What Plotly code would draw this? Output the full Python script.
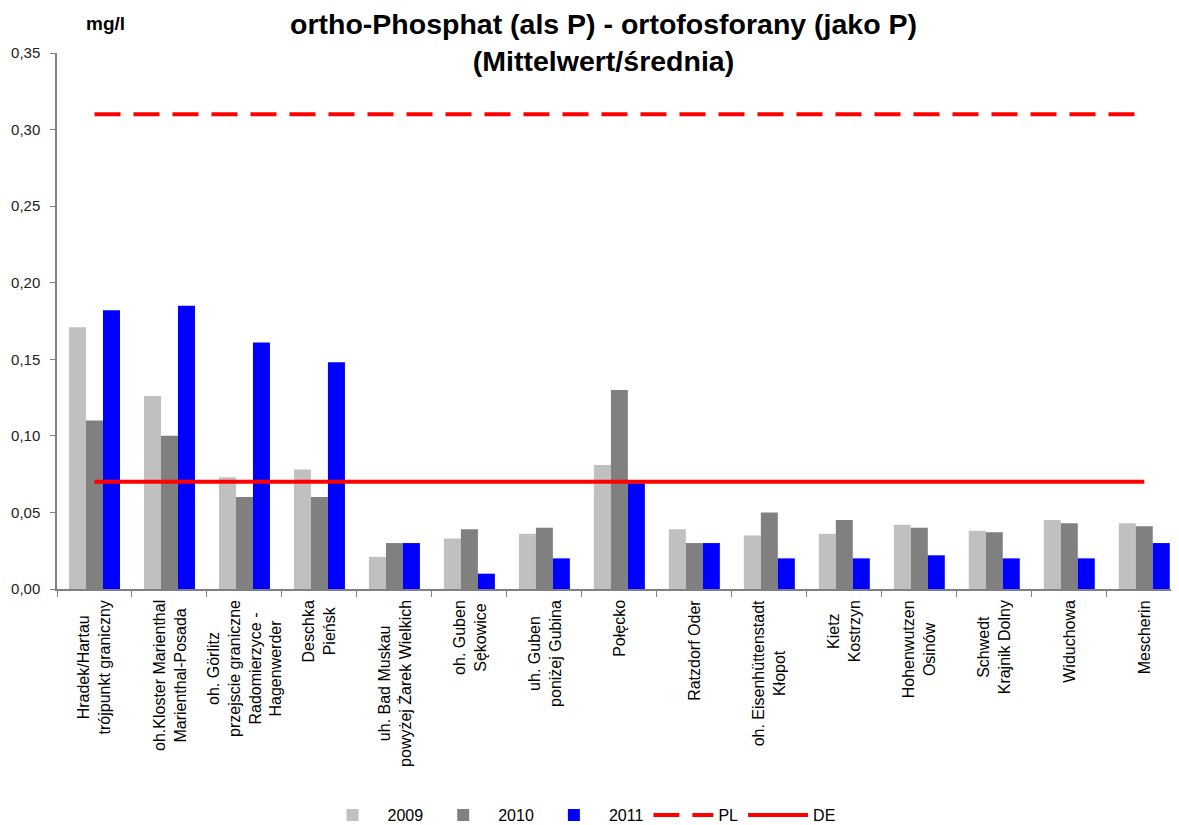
import plotly.graph_objects as go

categories = [
    "Hradek/Hartau<br>trójpunkt graniczny",
    "oh.Kloster Marienthal<br>Marienthal-Posada",
    "oh. Görlitz<br>przejscie graniczne<br>Radomierzyce -<br>Hagenwerder",
    "Deschka<br>Pieńsk",
    "uh. Bad Muskau<br>powyżej Żarek Wielkich",
    "oh. Guben<br>Sękowice",
    "uh. Guben<br>poniżej Gubina",
    "Połęcko",
    "Ratzdorf Oder",
    "oh. Eisenhüttenstadt<br>Kłopot",
    "Kietz<br>Kostrzyn",
    "Hohenwutzen<br>Osinów",
    "Schwedt<br>Krajnik Dolny",
    "Widuchowa",
    "Mescherin",
]

v2009 = [0.171, 0.126, 0.073, 0.078, 0.021, 0.033, 0.036, 0.081, 0.039, 0.035, 0.036, 0.042, 0.038, 0.045, 0.043]
v2010 = [0.110, 0.100, 0.060, 0.060, 0.030, 0.039, 0.040, 0.130, 0.030, 0.050, 0.045, 0.040, 0.037, 0.043, 0.041]
v2011 = [0.182, 0.185, 0.161, 0.148, 0.030, 0.010, 0.020, 0.069, 0.030, 0.020, 0.020, 0.022, 0.020, 0.020, 0.030]

pl_limit = 0.31
de_limit = 0.07

y_ticks = [0.00, 0.05, 0.10, 0.15, 0.20, 0.25, 0.30, 0.35]

title_lines = ["ortho-Phosphat (als P) - ortofosforany (jako P)", "(Mittelwert/średnia)"]

FONT = "Arial, Liberation Sans, sans-serif"
OFF = 8  # page body margin
W, H = 1179 - OFF, 825 - OFF
L, T = 57 - OFF, 53 - OFF
PW, PH = 1121, 536
R = W - L - PW
B = H - T - PH
BOTTOM = T + PH  # plot bottom in figure px


def py(page_y):
    """page pixel y -> paper coordinate"""
    return (BOTTOM - (page_y - OFF)) / PH


def px(page_x):
    return (page_x - OFF - L) / PW


fig = go.Figure()
fig.add_trace(go.Bar(name="2009", x=categories, y=v2009, marker=dict(color="#C0C0C0", line=dict(width=0))))
fig.add_trace(go.Bar(name="2010", x=categories, y=v2010, marker=dict(color="#808080", line=dict(width=0))))
fig.add_trace(go.Bar(name="2011", x=categories, y=v2011, marker=dict(color="#0000FF", line=dict(width=0))))
fig.add_trace(go.Scatter(name="PL", x=categories, y=[pl_limit] * len(categories), mode="lines",
                         line=dict(color="#FF0000", width=4, dash="26px,13px")))
fig.add_trace(go.Scatter(name="DE", x=categories, y=[de_limit] * len(categories), mode="lines",
                         line=dict(color="#FF0000", width=4)))

annotations = [
    dict(text="<b>mg/l</b>", xref="paper", yref="paper",
         x=px(84), y=py(24), xanchor="left", yanchor="middle",
         showarrow=False, font=dict(family=FONT, size=19, color="#000000")),
    dict(text="<b>" + "<br>".join(title_lines) + "</b>", xref="paper", yref="paper",
         x=px(603), y=py(6), xanchor="center", yanchor="top",
         align="center", showarrow=False,
         font=dict(family=FONT, size=28.5, color="#000000")),
]
for cat in categories:
    annotations.append(dict(
        text=cat, x=cat, xref="x", y=py(598), yref="paper",
        xanchor="center", yanchor="top", textangle=-90, align="center",
        showarrow=False, font=dict(family=FONT, size=16, color="#000000")))

fig.update_layout(
    width=W, height=H,
    margin=dict(l=L, r=R, t=T, b=B, autoexpand=False),
    plot_bgcolor="white", paper_bgcolor="white",
    separators=",.",
    barmode="group", bargap=0.32, bargroupgap=0,
    font=dict(family=FONT, size=15, color="#000000"),
    showlegend=True,
    legend=dict(orientation="h", x=px(579), xanchor="center",
                y=py(815), yanchor="middle", font=dict(size=16), itemwidth=60,
                traceorder="normal", bgcolor="rgba(0,0,0,0)"),
    xaxis=dict(
        type="category", range=[-0.5, 14.45],
        showline=True, linecolor="#808080", linewidth=1.5,
        ticks="outside", tickson="boundaries", ticklen=6, tickcolor="#808080",
        showticklabels=False, showgrid=False, zeroline=False, automargin=False,
    ),
    yaxis=dict(
        range=[0, 0.35], tickvals=y_ticks, tickformat=".2f",
        showline=True, linecolor="#808080", linewidth=1.5,
        ticks="outside", ticklen=5, tickcolor="#808080", ticklabelstandoff=7,
        showgrid=False, zeroline=False, automargin=False,
        tickfont=dict(family=FONT, size=15, color="#222222"),
    ),
    annotations=annotations,
)

fig.write_html("out.html")
